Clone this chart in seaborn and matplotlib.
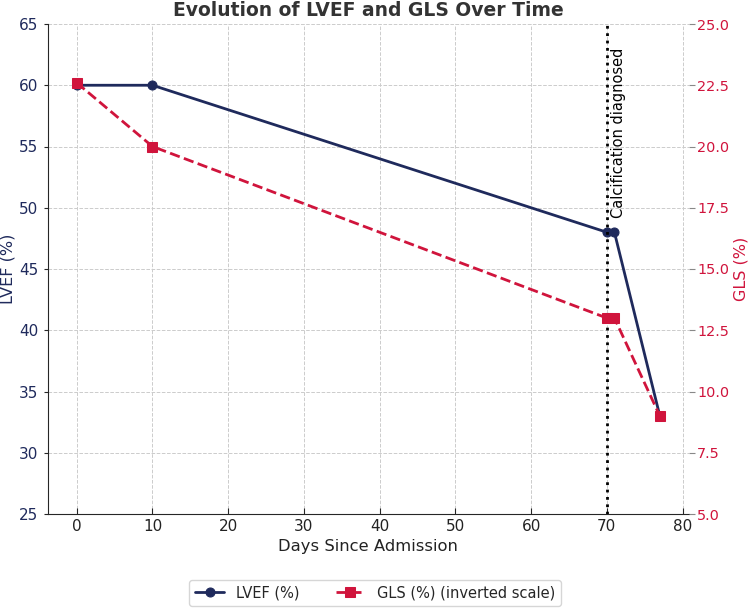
import matplotlib
matplotlib.use("Agg")
import matplotlib.pyplot as plt
import seaborn as sns
import pandas as pd

days = [0, 10, 70, 71, 77]
lvef = [60, 60, 48, 48, 33]
gls = [22.6, 20, 13, 13, 9]
event_day = 70
event_label = "Calcification diagnosed"

navy = "#1f2a5c"
crimson = "#d0143c"

sns.set_style("ticks")
plt.rcParams['font.family'] = ['DejaVu Sans']

df = pd.DataFrame({"day": days, "lvef": lvef, "gls": gls})

fig = plt.figure(figsize=(7.5, 6.1), dpi=100)
L, R, T, B = 47.6, 689, 24, 514
ax1 = fig.add_axes([L/750, 1-B/610, (R-L)/750, (B-T)/610])
ax2 = ax1.twinx()

sns.lineplot(data=df, x="day", y="lvef", ax=ax1, color=navy, marker="o",
             markersize=6.5, linewidth=2, markeredgecolor=navy, label="LVEF (%)", legend=False)
sns.lineplot(data=df, x="day", y="gls", ax=ax2, color=crimson, marker="s",
             markersize=6.5, linewidth=2, linestyle="--", markeredgecolor=crimson,
             label="GLS (%) (inverted scale)", legend=False)

ax1.set_ylim(25, 65)
ax2.set_ylim(5, 25)
ax1.set_xticks(range(0, 81, 10))
ax1.set_yticks(range(25, 66, 5))
rticks = [5, 7.5, 10, 12.5, 15, 17.5, 20, 22.5, 25]
ax2.set_yticks(rticks)
ax2.set_yticklabels([f"{v:.1f}" for v in rticks])

ax1.axvline(event_day, color="black", linestyle=":", linewidth=2)
ax1.text(event_day + 0.6, 49.2, event_label, rotation=90, ha="left", va="bottom",
         fontsize=10.5, color="black")

ax1.grid(True, linestyle="--", color="#cccccc", linewidth=0.7)
ax1.set_axisbelow(True)

ax1.set_xlabel("Days Since Admission", fontsize=11.8, color="#222222")
ax1.set_ylabel("LVEF (%)", fontsize=11.5, color=navy)
ax2.set_ylabel("GLS (%)", fontsize=11.5, color=crimson)
ax1.yaxis.set_label_coords((16 - L)/(R - L), 0.5)
ax2.yaxis.set_label_coords((733 - L)/(R - L), 0.5)

ax1.tick_params(axis="y", labelcolor=navy, labelsize=11, length=3)
ax1.tick_params(axis="x", labelsize=11, direction="in", length=4, labelcolor="#222222")
ax2.tick_params(axis="y", labelcolor=crimson, labelsize=10.4, color="#888888",
                length=4, pad=2)

for s in ["top", "right"]:
    ax1.spines[s].set_visible(False)
for s in ["top", "right", "left", "bottom"]:
    ax2.spines[s].set_visible(False)

ax1.set_title("Evolution of LVEF and GLS Over Time", fontsize=13.5, fontweight="bold",
              color="#333333", pad=6)

h1, l1 = ax1.get_legend_handles_labels()
h2, l2 = ax2.get_legend_handles_labels()
fig.legend(h1 + h2, l1 + l2, loc="center", bbox_to_anchor=(375/750, 1-593/610),
           ncol=2, fontsize=10.5, frameon=True, columnspacing=2.5)

fig.savefig("out.png", dpi=100)
